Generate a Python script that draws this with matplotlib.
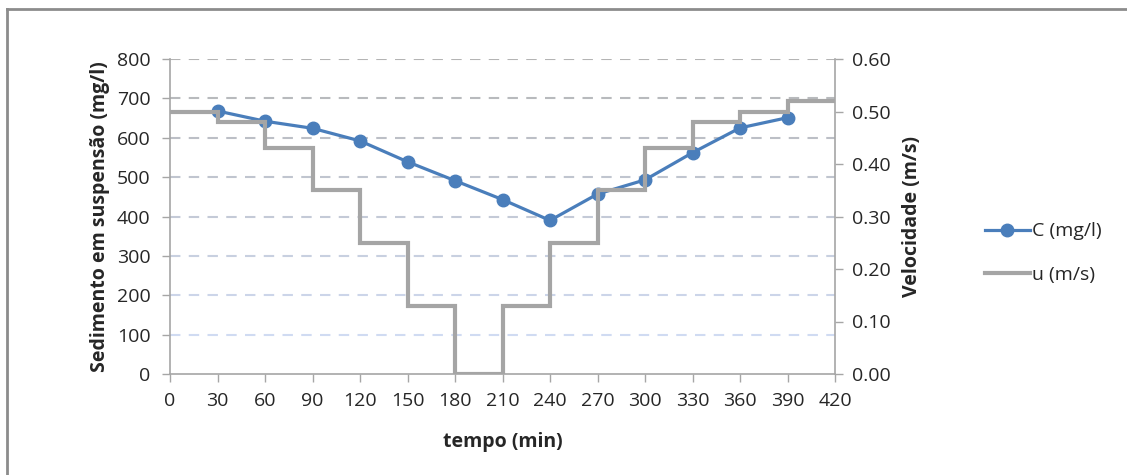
import matplotlib
matplotlib.use("Agg")
import matplotlib.pyplot as plt
import numpy as np
from matplotlib.lines import Line2D
from matplotlib.colors import to_rgb

# ---- data ----
t_c = [30, 60, 90, 120, 150, 180, 210, 240, 270, 300, 330, 360, 390]
c_vals = [668, 642, 624, 592, 539, 491, 443, 390, 457, 493, 562, 625, 651]
u_edges = [0, 30, 60, 90, 120, 150, 180, 210, 240, 270, 300, 330, 360, 390, 420]
u_vals = [0.50, 0.48, 0.43, 0.35, 0.25, 0.13, 0.00, 0.13, 0.25, 0.35, 0.43, 0.48, 0.50, 0.52]
x_ticks = list(range(0, 421, 30))
left_ticks = list(range(0, 801, 100))
right_ticks = [0.0, 0.1, 0.2, 0.3, 0.4, 0.5, 0.6]

FONT = "Open Sans"
plt.rcParams["font.family"] = [FONT, "DejaVu Sans"]
TXT = "#262626"
BLUE = "#4a7ebb"
GRAY = "#a5a5a5"
AX = "#a6a6a6"
FS = 14

fig = plt.figure(figsize=(11.27, 4.75), dpi=100)
W, H = 1127, 475
ax = fig.add_axes([170 / W, 1 - 374 / H, (835 - 170) / W, (374 - 59) / H])
ax2 = ax.twinx()

# gridlines (gradient from gray at top to light blue at bottom)
c_top = np.array(to_rgb("#b4b4b4"))
c_bot = np.array(to_rgb("#d0dbf2"))
for v in left_ticks[1:]:
    f = (800 - v) / 700
    col = c_top * (1 - f) + c_bot * f
    ax.axhline(v, color=col, lw=1.5, ls=(0, (5, 4)), zorder=0.5)

ax.plot(t_c, c_vals, color=BLUE, lw=2.3, marker="o", ms=9, zorder=3,
        solid_joinstyle="round")
ax2.stairs(u_vals, u_edges, baseline=None, color=GRAY, lw=3.0, zorder=3)

ax.set_xlim(0, 420)
ax.set_ylim(0, 800)
ax2.set_ylim(0, 0.6)
ax.set_xticks(x_ticks)
ax.set_yticks(left_ticks)
ax2.set_yticks(right_ticks)
ax2.set_yticklabels([f"{v:.2f}" for v in right_ticks])

for a in (ax, ax2):
    a.spines["top"].set_visible(False)
    for s in ("left", "right", "bottom"):
        a.spines[s].set_color(AX)
        a.spines[s].set_linewidth(1.2)
ax.spines["right"].set_visible(False)
ax2.spines["left"].set_visible(False)
ax2.spines["bottom"].set_visible(False)

ax.tick_params(axis="both", colors=AX, labelcolor=TXT, labelsize=FS,
               length=6, width=1.0, direction="out")
ax.tick_params(axis="x", pad=7)
ax.tick_params(axis="y", pad=8)
ax2.tick_params(axis="y", colors=AX, labelcolor=TXT, labelsize=FS,
                length=6, width=1.0, direction="out", pad=6)

ax.set_xlabel("tempo (min)", fontsize=FS, fontweight="bold", color=TXT, labelpad=16)
ax.set_ylabel("Sedimento em suspensão (mg/l)", fontsize=FS, fontweight="bold",
              color=TXT, labelpad=5)
ax2.set_ylabel("Velocidade (m/s)", fontsize=FS, fontweight="bold", color=TXT,
               labelpad=8)

handles = [Line2D([], [], color=BLUE, lw=2.3, marker="o", ms=9),
           Line2D([], [], color=GRAY, lw=3.0)]
fig.legend(handles, ["C (mg/l)", "u (m/s)"], loc="center left",
           bbox_to_anchor=(985 / W, 1 - 253 / H), frameon=False, borderpad=0,
           borderaxespad=0, fontsize=FS, labelcolor=TXT, handlelength=2.3,
           handletextpad=0.1, labelspacing=1.3, markerscale=1.0)

# outer chart border (top and left visible)
fig.add_artist(Line2D([7 / W, 7 / W], [0, 1 - 9 / H], transform=fig.transFigure,
                      color="#8c8c8c", lw=2))
fig.add_artist(Line2D([7 / W, 1], [1 - 9 / H, 1 - 9 / H], transform=fig.transFigure,
                      color="#8c8c8c", lw=2))

fig.savefig("out.png", dpi=100)
